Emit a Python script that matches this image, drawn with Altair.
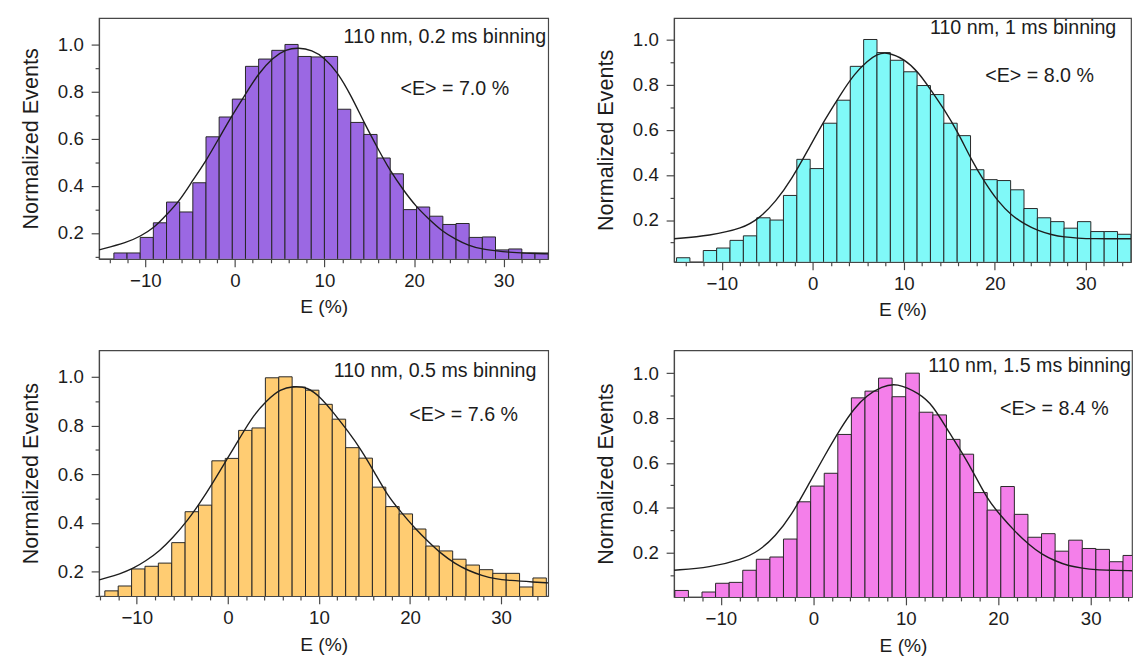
import altair as alt
import pandas as pd

# ---------------- data ----------------
# common histogram bins (left edges, E in %)
BIN_LEFT = [-14.98, -13.511, -12.042, -10.573, -9.104, -7.635, -6.166, -4.697,
            -3.228, -1.759, -0.29, 1.179, 2.648, 4.117, 5.586, 7.055, 8.524,
            9.993, 11.462, 12.931, 14.4, 15.869, 17.338, 18.807, 20.276,
            21.745, 23.214, 24.683, 26.152, 27.621, 29.09, 30.559, 32.028, 33.497]
BIN_WIDTH = 1.469

# normalized events per bin
H_02MS = [0, 0.115, 0.115, 0.181, 0.243, 0.331, 0.289, 0.413, 0.608, 0.692, 0.768,
          0.907, 0.938, 0.975, 1.0, 0.949, 0.947, 0.949, 0.725, 0.669, 0.618, 0.518,
          0.451, 0.299, 0.310, 0.271, 0.236, 0.240, 0.181, 0.183, 0.128, 0.132, 0.115, 0.115]
H_1MS = [0.033, 0, 0.065, 0.076, 0.11, 0.13, 0.21, 0.20, 0.309, 0.469, 0.428, 0.629,
         0.731, 0.881, 1.0, 0.942, 0.908, 0.857, 0.796, 0.756, 0.629, 0.574, 0.423,
         0.379, 0.375, 0.334, 0.251, 0.21, 0.193, 0.164, 0.193, 0.149, 0.149, 0.137]
H_05MS = [0, 0.121, 0.141, 0.211, 0.222, 0.235, 0.319, 0.446, 0.473, 0.655, 0.665,
          0.78, 0.79, 0.996, 1.0, 0.958, 0.945, 0.887, 0.826, 0.709, 0.666, 0.547,
          0.467, 0.437, 0.375, 0.305, 0.285, 0.251, 0.227, 0.208, 0.193, 0.193, 0.137, 0.174]
H_15MS = [0.032, 0, 0.025, 0.064, 0.068, 0.122, 0.171, 0.181, 0.261, 0.427, 0.497,
          0.554, 0.727, 0.89, 0.92, 0.978, 0.895, 1.0, 0.826, 0.814, 0.705, 0.639,
          0.468, 0.39, 0.495, 0.371, 0.269, 0.285, 0.207, 0.256, 0.219, 0.215, 0.16, 0.188]

# fitted curves, points
FIT_02MS_E = [-15.17, -12.0, -10.6, -9.0, -7.6, -6.1, -4.7, -3.2, -1.75, -0.3, 1.2, 2.6,
              4.2, 5.7, 7.1, 8.6, 10.0, 11.5, 13.0, 14.4, 15.9, 17.3, 18.8, 20.2, 21.7,
              23.1, 24.6, 26.1, 27.5, 29.0, 30.5, 32.5, 34.97]
FIT_02MS_V = [0.128, 0.16, 0.185, 0.222, 0.278, 0.34, 0.424, 0.507, 0.604, 0.70, 0.79,
              0.875, 0.944, 0.979, 0.987, 0.976, 0.944, 0.88, 0.78, 0.67, 0.562, 0.465,
              0.382, 0.3125, 0.257, 0.208, 0.174, 0.146, 0.132, 0.125, 0.118, 0.114, 0.111]
FIT_1MS_E = [-15.26, -11.3, -7.7, -5.9, -4.1, -2.3, -0.5, 1.3, 3.1, 4.55, 6.0, 7.05, 8.15,
             10.1, 11.6, 13.0, 14.5, 16.0, 17.4, 18.9, 20.4, 21.8, 23.3, 24.8, 26.2, 27.7,
             29.1, 30.6, 34.98]
FIT_1MS_V = [0.117, 0.131, 0.163, 0.207, 0.28, 0.382, 0.513, 0.644, 0.76, 0.847, 0.905,
             0.935, 0.945, 0.913, 0.855, 0.775, 0.687, 0.585, 0.469, 0.367, 0.28, 0.222,
             0.181, 0.152, 0.135, 0.124, 0.12, 0.117, 0.117]
FIT_05MS_E = [-14.15, -13.4, -11.9, -10.4, -9.0, -7.5, -6.05, -4.5, -3.1, -1.6, -0.1, 1.33,
              2.84, 4.3, 5.75, 7.2, 8.7, 10.15, 11.66, 13.2, 14.65, 16.1, 17.5, 18.97, 20.5,
              21.95, 23.5, 24.9, 26.4, 27.9, 29.4, 30.85, 33.7, 35.17]
FIT_05MS_V = [0.166, 0.174, 0.19, 0.213, 0.244, 0.285, 0.339, 0.406, 0.48, 0.568, 0.662,
              0.75, 0.844, 0.904, 0.95, 0.962, 0.958, 0.918, 0.85, 0.776, 0.70, 0.608,
              0.514, 0.446, 0.379, 0.325, 0.271, 0.234, 0.204, 0.184, 0.17, 0.164, 0.157, 0.154]
FIT_15MS_E = [-15.07, -11.2, -7.67, -5.9, -4.1, -2.35, -0.57, 1.2, 2.97, 4.4, 5.8, 7.4, 9.0,
              11.5, 12.9, 14.5, 16.1, 17.5, 18.8, 20.2, 21.8, 23.3, 24.7, 26.2, 27.6, 29.1,
              30.6, 32.1, 34.47]
FIT_15MS_V = [0.122, 0.134, 0.171, 0.207, 0.273, 0.368, 0.5, 0.631, 0.756, 0.843, 0.902,
              0.94, 0.958, 0.909, 0.858, 0.748, 0.646, 0.544, 0.441, 0.368, 0.295, 0.237,
              0.193, 0.163, 0.141, 0.131, 0.124, 0.122, 0.12]

RUN_LABELS = ["110 nm, 0.2 ms binning", "110 nm, 1 ms binning",
              "110 nm, 0.5 ms binning", "110 nm, 1.5 ms binning"]
MEAN_LABELS = ["<E> = 7.0 %", "<E> = 8.0 %", "<E> = 7.6 %", "<E> = 8.4 %"]

X_TICKS = list(range(-14, 35, 2))
Y_TICKS = [0.1, 0.2, 0.3, 0.4, 0.5, 0.6, 0.7, 0.8, 0.9, 1.0]

# ---------------- styling ----------------
FONT = "Liberation Sans"
AXC = "#474747"
TXT = "#1c1c1c"


def x_axis():
    return alt.Axis(
        values=X_TICKS, format="d",
        labelExpr="datum.value % 10 === 0 ? datum.label : ''",
        tickSize={"condition": {"test": "datum.value % 10 === 0", "value": 8}, "value": 4},
        labelOverlap=False, labelFlush=False, labelPadding=5, titlePadding=8,
        titleFontSize=19.5,
    )


def y_axis():
    return alt.Axis(
        values=Y_TICKS,
        labelExpr="round(datum.value * 10) % 2 === 0 ? format(datum.value, '.1f') : ''",
        tickSize={"condition": {"test": "round(datum.value * 10) % 2 === 0", "value": 8}, "value": 4},
        labelOverlap=False, labelFlush=False, labelPadding=8, titlePadding=15,
        titleFontSize=22,
    )


def panel(heights, fit_e, fit_v, color, xdom, ydom, width, height,
          run_label, mean_label, run_pos, mean_pos):
    bars = pd.DataFrame({"e0": BIN_LEFT, "n": heights})
    bars = bars[bars["n"] > 0].copy()
    bars["e1"] = bars["e0"] + BIN_WIDTH
    bars["base"] = 0.0
    xs = alt.Scale(domain=xdom, nice=False, zero=False)
    ys = alt.Scale(domain=ydom, nice=False, zero=False)

    b = alt.Chart(bars).mark_bar(
        clip=True, fill=color, stroke="#262626", strokeWidth=1, opacity=1
    ).encode(
        x=alt.X("e0:Q", scale=xs, axis=x_axis(), title="E (%)"),
        x2="e1:Q",
        y=alt.Y("n:Q", scale=ys, axis=y_axis(), title="Normalized Events"),
        y2="base:Q",
    )
    fit = alt.Chart(pd.DataFrame({"e": fit_e, "v": fit_v})).mark_line(
        clip=True, interpolate="basis", color="#1e1e1e", strokeWidth=1.4
    ).encode(
        x=alt.X("e:Q", scale=xs, axis=x_axis(), title="E (%)"),
        y=alt.Y("v:Q", scale=ys, axis=y_axis(), title="Normalized Events"),
    )
    t1 = alt.Chart(pd.DataFrame({"t": [run_label]})).mark_text(
        align="right", baseline="alphabetic", font=FONT, fontSize=20, color=TXT
    ).encode(text="t:N", x=alt.value(run_pos[0]), y=alt.value(run_pos[1]))
    t2 = alt.Chart(pd.DataFrame({"t": [mean_label]})).mark_text(
        align="center", baseline="alphabetic", font=FONT, fontSize=20, color=TXT
    ).encode(text="t:N", x=alt.value(mean_pos[0]), y=alt.value(mean_pos[1]))
    return alt.layer(b, fit, t1, t2).properties(width=width, height=height)


p1 = panel(H_02MS, FIT_02MS_E, FIT_02MS_V, "#9b68e3", [-15.17, 34.97], [0.09, 1.112],
           457, 245, RUN_LABELS[0], MEAN_LABELS[0], (455, 25.5), (362, 78))
p2 = panel(H_1MS, FIT_1MS_E, FIT_1MS_V, "#80f9f8", [-15.26, 34.98], [0.015, 1.095],
           465, 248, RUN_LABELS[1], MEAN_LABELS[1], (450, 16.5), (372, 65))
p3 = panel(H_05MS, FIT_05MS_E, FIT_05MS_V, "#ffcc72", [-14.15, 35.17], [0.1, 1.109],
           457, 250, RUN_LABELS[2], MEAN_LABELS[2], (445, 27), (371, 72))
p4 = panel(H_15MS, FIT_15MS_E, FIT_15MS_V, "#f47fea", [-15.07, 34.47], [0.003, 1.102],
           466, 251, RUN_LABELS[3], MEAN_LABELS[3], (465, 22), (387, 65.5))

chart = alt.vconcat(
    alt.hconcat(p1, p2, spacing=45),
    alt.hconcat(p3, p4, spacing=45),
    spacing=29,
).properties(
    padding={"left": 10.6, "top": 3.5, "right": 0, "bottom": 4}
).configure_view(
    stroke=AXC, strokeWidth=1.2
).configure_axis(
    domainColor=AXC, tickColor=AXC, domainWidth=1.2, tickWidth=1.2,
    labelColor=TXT, titleColor=TXT, labelFont=FONT, titleFont=FONT,
    labelFontSize=19, titleFontWeight="normal", grid=False,
)

chart.save("out.html", embed_options={"renderer": "svg", "actions": False})
